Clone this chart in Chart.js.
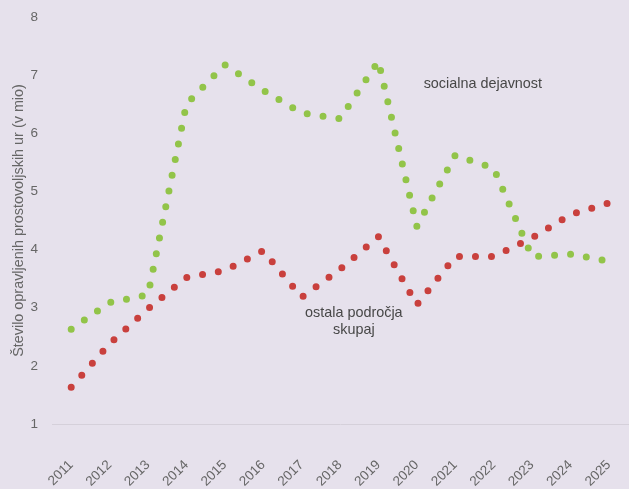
<!DOCTYPE html>
<html>
<head>
<meta charset="utf-8">
<script src="https://cdn.jsdelivr.net/npm/chart.js@4/dist/chart.umd.min.js"></script>
<style>
  html, body { margin: 0; padding: 0; background: #e6e1ec; }
  #chart { display: block; }
</style>
</head>
<body>
<canvas id="chart" width="629" height="489"></canvas>
<script>
const years = ['2011', '2012', '2013', '2014', '2015', '2016', '2017', '2018',
               '2019', '2020', '2021', '2022', '2023', '2024', '2025'];
const socialValues = [2.63, 3.09, 3.22, 6.5, 7.18, 6.74, 6.35, 6.25, 7.24, 4.4, 5.62, 5.4, 3.88, 3.92, 3.8];
const otherValues = [1.63, 2.38, 2.98, 3.52, 3.64, 3.98, 3.18, 3.66, 4.22, 3.05, 3.88, 3.88, 4.2, 4.6, 4.8];
const yTicks = [1, 2, 3, 4, 5, 6, 7, 8];

// text labels placed in data coordinates (category index, value)
const notes = [
    { lines: ['socialna dejavnost'], x: 10.72, y: 6.85 },
    { lines: ['ostala področja', 'skupaj'], x: 7.36, y: 2.9 }
];

const FONT = '"Liberation Sans", Arial, sans-serif';
const FS = 14.4;
const TICK_FS = 13.5;

const notePlugin = {
    id: 'notes',
    afterDatasetsDraw(chart) {
        const { ctx, scales } = chart;
        ctx.save();
        ctx.font = FS + 'px ' + FONT;
        ctx.fillStyle = '#474747';
        ctx.textAlign = 'center';
        ctx.textBaseline = 'middle';
        notes.forEach(n => {
            const px = scales.x.getPixelForValue(n.x);
            const py = scales.y.getPixelForValue(n.y);
            n.lines.forEach((line, i) => ctx.fillText(line, px, py + i * 17));
        });
        ctx.restore();
    }
};

const dotted = (color) => ({
    borderColor: color,
    borderWidth: 7,
    borderDash: [0, 16],
    borderCapStyle: 'round',
    borderJoinStyle: 'round',
    pointRadius: 0,
    fill: false,
    tension: 0
});

new Chart(document.getElementById('chart'), {
    type: 'line',
    data: {
        labels: years,
        datasets: [
            { label: 'socialna dejavnost', data: socialValues, ...dotted('#92c449') },
            { label: 'ostala področja skupaj', data: otherValues, ...dotted('#c9403d') }
        ]
    },
    options: {
        responsive: false,
        animation: false,
        layout: { padding: { left: 10, top: 17, right: 1, bottom: 0 } },
        plugins: {
            legend: { display: false },
            tooltip: { enabled: false }
        },
        scales: {
            x: {
                offset: true,
                grid: { display: false },
                border: { display: true, color: '#d5d0da', width: 1 },
                ticks: {
                    color: '#666666',
                    font: { family: FONT, size: TICK_FS },
                    minRotation: 45,
                    maxRotation: 45,
                    autoSkip: false,
                    padding: 25
                },
                afterFit: (axis) => {
                    axis.height = 65;
                    axis.paddingLeft = 0;
                    axis.paddingRight = 0;
                }
            },
            y: {
                min: 1,
                max: 8,
                afterBuildTicks: (axis) => { axis.ticks = yTicks.map(v => ({ value: v })); },
                afterFit: (axis) => {
                    axis.width = 42;
                    axis.paddingTop = 0;
                    axis.paddingBottom = 0;
                },
                grid: { display: false },
                border: { display: false },
                ticks: {
                    color: '#666666',
                    font: { family: FONT, size: TICK_FS },
                    padding: 6
                },
                title: {
                    display: true,
                    text: 'Število opravljenih prostovoljskih ur (v mio)',
                    color: '#666666',
                    font: { family: FONT, size: FS },
                    padding: 0
                }
            }
        }
    },
    plugins: [notePlugin]
});
</script>
</body>
</html>
